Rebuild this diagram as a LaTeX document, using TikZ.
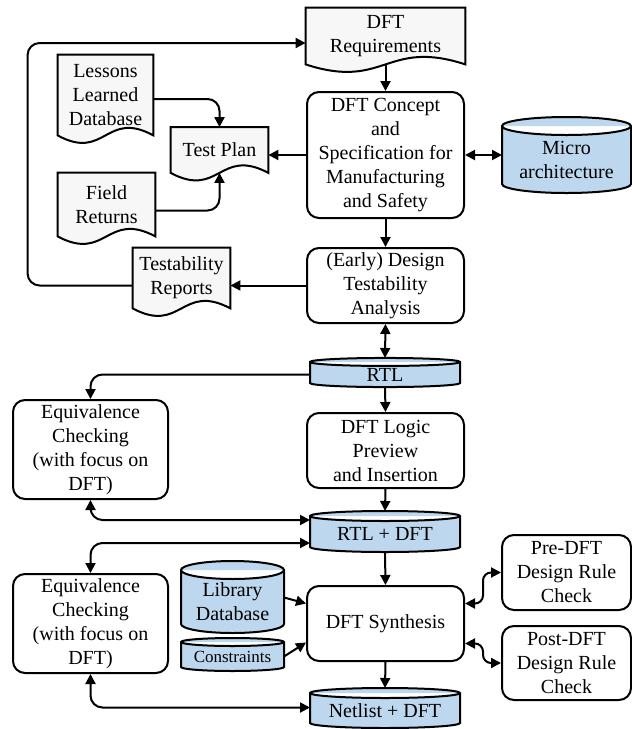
\documentclass[tikz,border=0pt]{standalone}
\usepackage{fontspec}
\setmainfont{Liberation Serif}
\usetikzlibrary{arrows.meta,calc,backgrounds}
\definecolor{dbblue}{RGB}{189,215,238}
\definecolor{docgray}{RGB}{247,247,247}
\tikzset{
  every node/.style={font=\fontsize{10}{12}\selectfont, align=center, inner sep=1pt},
  proc/.style={draw, rounded corners=6pt, line width=1pt, minimum width=78.5pt},
  docu/.style={minimum width=48.5pt},
  db/.style={outer sep=0pt, outer ysep=#1, minimum width=75pt},
  arr/.style={-{Triangle[length=5pt,width=5pt]}, line width=1pt},
  darr/.style={{Triangle[length=5pt,width=5pt]}-{Triangle[length=5pt,width=5pt]}, line width=1pt},
}
% 文書の形（下が波形）
\newcommand{\docshape}[1]{%
  \draw[line width=1pt, fill=docgray] (#1.south west) -- (#1.north west) -- (#1.north east) -- (#1.south east)
    .. controls ($(#1.south)+(0,-26)$) and ($(#1.south)+(0,26)$) .. (#1.south west) -- cycle;}
% データベースの円柱
\newcommand{\dbshape}[2]{%
  \draw[line width=1pt, fill=dbblue] let \p1=($(#1.east)-(#1.west)$) in
    (#1.north west) -- ([yshift=#2]#1.south west)
    arc[start angle=180, end angle=360, x radius=0.5*\x1, y radius=#2]
    -- (#1.north east)
    arc[start angle=0, end angle=180, x radius=0.5*\x1, y radius=#2] -- cycle
    (#1.north east) arc[start angle=0, end angle=-180, x radius=0.5*\x1, y radius=#2];}
\begin{document}
\begin{tikzpicture}[x=0.5pt, y=-0.5pt]
  \useasboundingbox (0,0) rectangle (632,729);
  % 上段
  \node[docu, minimum width=79.5pt, minimum height=28pt] (req) at (385.5,36) {DFT\\Requirements};
  \node[proc, minimum height=63pt] (concept) at (385.5,155) {DFT Concept\\and\\Specification for\\Manufacturing\\and Safety};
  \node[db=4.5pt, minimum width=64.5pt, minimum height=24.5pt] (micro) at (566.5,159.5) {Micro\\architecture};
  \node[proc, minimum height=37.5pt] (early) at (385.5,285.5) {(Early) Design\\Testability\\Analysis};
  % 左の文書
  \node[docu, minimum width=47.5pt, minimum height=40pt] (lessons) at (105.5,95) {Lessons\\Learned\\Database};
  \node[docu, minimum height=22.5pt] (plan) at (219.5,150) {Test Plan};
  \node[docu, minimum height=31.5pt] (field) at (106.5,204.5) {Field\\Returns};
  \node[docu, minimum height=30pt] (reports) at (181.5,278) {Testability\\Reports};
  % 中段
  \node[db=2pt, minimum height=8.5pt] (rtl) at (385,374.5) {RTL};
  \node[proc, minimum width=77.5pt, minimum height=49.5pt] (eqa) at (90.5,449.5) {Equivalence\\Checking\\(with focus on\\DFT)};
  \node[proc, minimum height=37.5pt] (logic) at (385.5,450.5) {DFT Logic\\Preview\\and Insertion};
  \node[db=2.5pt, minimum height=13pt] (rtldft) at (385,534) {RTL + DFT};
  % 下段
  \node[proc, minimum width=77.5pt, minimum height=49.5pt] (eqb) at (90.5,623.5) {Equivalence\\Checking\\(with focus on\\DFT)};
  \node[db=4.5pt, minimum width=51.5pt, minimum height=22.5pt] (lib) at (232.5,601.5) {Library\\Database};
  \node[db=2pt, minimum width=51.5pt, minimum height=10.5pt, font=\fontsize{8.5}{10}\selectfont] (cons) at (232.5,656.5) {Constraints};
  \node[proc, minimum height=37.5pt] (synth) at (385.5,623.5) {DFT Synthesis};
  \node[proc, minimum width=64.5pt, minimum height=37.5pt] (pre) at (566.5,572.5) {Pre-DFT\\Design Rule\\Check};
  \node[proc, minimum width=64.5pt, minimum height=37pt] (post) at (566.5,663) {Post-DFT\\Design Rule\\Check};
  \node[db=2.5pt, minimum height=12.5pt] (net) at (385,710.5) {Netlist + DFT};
  % 文書とデータベースの枠
  \begin{scope}[on background layer]
    \docshape{req}
    \docshape{lessons}
    \docshape{plan}
    \docshape{field}
    \docshape{reports}
    \dbshape{micro}{4.5pt}
    \dbshape{rtl}{2pt}
    \dbshape{rtldft}{2.5pt}
    \dbshape{lib}{4.5pt}
    \dbshape{cons}{2pt}
    \dbshape{net}{2.5pt}
  \end{scope}
  % 矢印（上段）
  \draw[arr] (req.south) -- (concept.north);
  \draw[darr] (concept.east) -- (concept.east -| micro.west);
  \draw[arr] (concept.west) -- (concept.west -| plan.east);
  \draw[arr, rounded corners=6pt] ($(lessons.east)+(0,4)$) -| (plan.north);
  \draw[arr, rounded corners=6pt] ($(field.east)+(0,6)$) -| (plan.south);
  \draw[arr] (concept.south) -- (early.north);
  \draw[arr] (early.west) -- (early.west -| reports.east);
  \draw[arr, rounded corners=6pt] (early.west -| reports.west) -- ++(-105,0) |- ($(req.west)+(0,7)$);
  % 矢印（中段）
  \draw[darr] (early.south) -- ([yshift=2pt]rtl.north);
  \draw[arr, rounded corners=6pt] (rtl.west) -| (eqa.north);
  \draw[arr] (rtl.south) -- (logic.north);
  \draw[arr] (logic.south) -- ([yshift=2.5pt]rtldft.north);
  \draw[darr, rounded corners=6pt] (eqa.south) |- ($(rtldft.west)+(0,-14)$);
  \draw[darr, rounded corners=6pt] ($(rtldft.west)+(0,9)$) -| (eqb.north);
  % 矢印（下段）
  \draw[arr] (rtldft.south) -- (synth.north);
  \draw[arr] ($(lib.east)+(0,-4)$) -- ($(synth.west)+(0,-20)$);
  \draw[arr] (cons.east) -- ($(synth.west)+(0,19)$);
  \draw[darr, rounded corners=4pt] ($(synth.east)+(0,-20)$) -- ++(18,0) |- (pre.west);
  \draw[darr, rounded corners=4pt] ($(synth.east)+(0,20)$) -- ++(18,0) |- (post.west);
  \draw[arr] (synth.south) -- ([yshift=2.5pt]net.north);
  \draw[darr, rounded corners=6pt] (eqb.south) |- ($(net.west)+(0,-3)$);
\end{tikzpicture}
\end{document}
